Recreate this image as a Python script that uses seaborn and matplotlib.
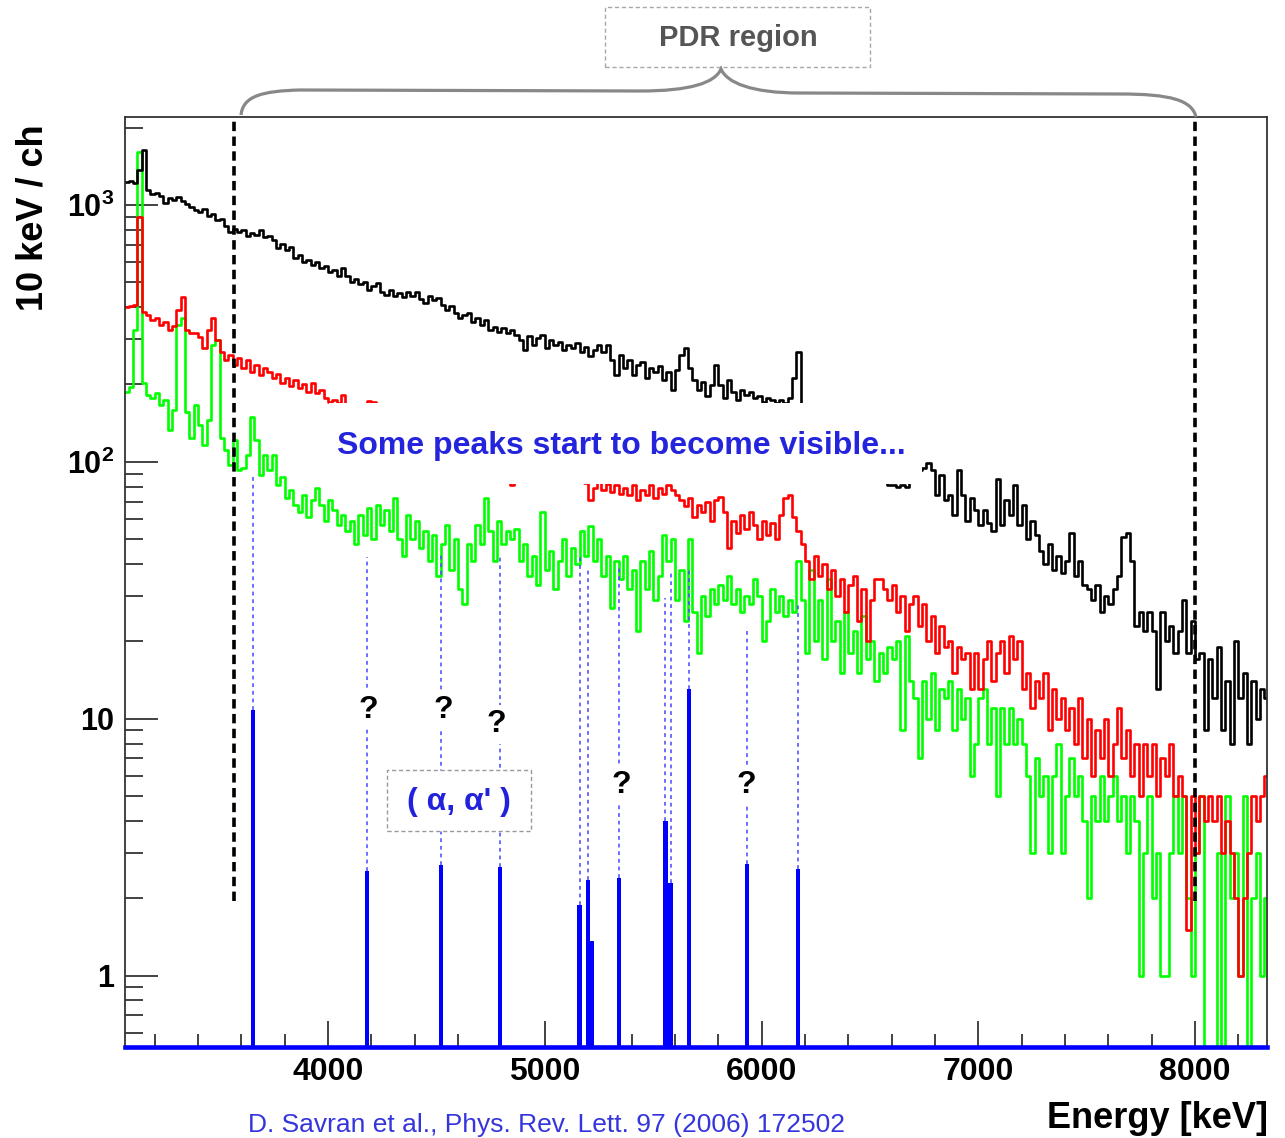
import numpy as np
import pandas as pd
import matplotlib
matplotlib.use('Agg')
import matplotlib.pyplot as plt
import seaborn as sns
from matplotlib.patches import Rectangle, PathPatch
from matplotlib.path import Path
from matplotlib.ticker import MultipleLocator, LogLocator, NullFormatter, FixedLocator, FixedFormatter

sns.set_theme(style='white')
plt.rcParams['font.family'] = ['Liberation Sans', 'DejaVu Sans']
plt.rcParams['mathtext.fontset'] = 'custom'
plt.rcParams['mathtext.rm'] = 'Liberation Sans:bold'
plt.rcParams['mathtext.it'] = 'Liberation Sans:bold'
plt.rcParams['mathtext.bf'] = 'Liberation Sans:bold'
plt.rcParams['text.color'] = 'black'

# ---------------- data ----------------
bin_start = 3060   # keV
bin_width = 20     # keV

black = [1230,1240,1220,1370,1640,1144,1104,1114,1084,1018,
         1065,1046,1075,1037,1009,982,956,939,965,906,
         922,874,882,828,785,806,785,799,757,778,
         764,799,750,757,731,680,705,668,686,622,
         639,600,611,584,600,568,579,548,558,529,
         568,529,501,516,493,501,467,484,497,458,
         446,467,442,454,438,458,442,458,431,415,
         442,427,435,408,390,404,380,363,373,380,
         351,363,341,357,326,335,320,332,317,326,
         312,298,273,309,285,304,312,277,298,285,
         293,273,285,277,290,268,280,258,273,285,
         268,285,249,218,261,232,249,218,238,244,
         212,232,224,236,208,224,190,228,261,277,
         232,208,190,204,180,199,238,199,177,208,
         187,174,190,182,187,177,180,171,177,174,
         169,174,169,177,212,268,166,162,156,159,
         151,153,145,139,133,127,122,116,111,106,
         102,97,93,88,87,85,81,81,80,81,
         80,87,89,93,95,99,93,74,89,71,
         74,62,93,74,59,72,65,57,65,58,
         54,86,57,71,62,81,57,68,50,59,
         52,45,40,48,38,43,37,41,53,36,
         41,33,32,29,33,26,30,28,32,36,
         51,53,41,23,26,22,26,22,13,26,
         20,23,18,22,29,18,24,17,18,9,
         17,12,19,9,14,8,20,12,15,8,
         14,10,13,12]

red = [399,403,408,898,383,373,357,363,341,351,
       326,338,390,438,326,317,317,306,277,326,
       363,298,268,249,261,238,254,232,249,224,
       238,218,232,224,212,220,203,212,197,208,
       194,201,187,202,185,190,177,171,174,169,
       182,162,156,159,152,162,172,171,152,145,
       148,139,142,135,130,133,126,122,124,117,
       113,116,109,106,111,104,100,102,96,93,
       95,91,89,93,87,88,85,90,85,81,
       87,90,87,91,88,93,89,95,90,93,
       88,91,87,90,85,88,83,71,79,87,
       78,82,76,81,75,79,74,81,71,78,
       74,81,72,79,75,81,78,74,71,67,
       72,61,68,64,70,59,71,73,64,46,
       59,53,62,55,64,57,50,59,52,58,
       50,62,72,74,61,54,48,41,35,43,
       36,40,32,38,30,35,26,33,36,24,
       32,20,29,35,35,32,29,33,26,30,
       22,28,30,23,28,20,25,18,23,19,
       20,15,19,17,18,13,18,13,17,20,
       14,18,20,15,21,17,20,13,15,11,
       14,12,15,9,13,10,12,9,11,8,
       12,7,10,6,9,7,10,6,8,11,
       7,9,6,8,5,8,6,8,5,7,
       6,8,5,6,5,1.5,5,3,5,4,
       5,4,5,3,4,3,2,1,2,3,
       5,4,5,6]

green = [187,195,326,1610,202,182,177,185,166,174,
         133,159,341,363,156,124,166,139,116,145,
         285,298,124,111,97,122,93,95,106,149,
         122,89,106,93,106,81,87,72,78,68,
         64,74,61,71,79,68,59,71,65,57,
         62,54,59,48,62,52,66,50,68,57,
         65,54,72,50,43,62,50,59,46,54,
         41,52,36,48,57,38,50,32,28,48,
         41,57,48,72,54,41,59,48,54,50,
         55,41,48,36,43,33,64,38,45,32,
         41,50,36,46,40,54,43,56,41,50,
         36,43,27,41,35,43,32,38,22,41,
         32,45,29,36,52,41,50,29,38,24,
         50,26,18,30,25,32,28,33,29,36,
         28,32,26,30,28,35,30,20,24,32,
         26,30,25,29,26,41,29,18,38,20,
         29,17,35,20,24,15,26,18,22,15,
         25,17,20,14,18,15,19,17,20,9,
         21,14,12,7,14,10,15,9,13,12,
         14,9,13,10,12,6,8,12,13,8,
         11,5,11,8,11,8,10,8,6,3,
         7,5,6,3,6,8,3,5,7,5,
         6,4,2,5,4,6,4,5,6,4,
         5,3,5,4,1,3,5,2,3,1,
         1,3,5,3,5,2,1,3,5,0,
         0,0,3,0,5,2,3,1,5,0,
         2,3,1,2]

# known (alpha,alpha') levels shown as blue bars
peak_energy = [3654, 4180, 4521, 4793, 5160, 5198, 5218, 5342, 5557, 5580, 5665, 5933, 6168]
peak_height = [10.8, 2.55, 2.69, 2.64, 1.89, 2.35, 1.36, 2.39, 3.98, 2.29, 13.1, 2.71, 2.6]

# dashed guide lines from bars up to the spectrum
guide_energy = [3654, 4180, 4521, 4793, 5160, 5198, 5342, 5555, 5580, 5665, 5933, 6168]
guide_low = [10.8, 2.55, 2.69, 2.64, 1.89, 2.35, 2.39, 3.98, 2.29, 13.1, 2.71, 2.6]
guide_top = [89, 42.5, 44, 43, 42.5, 38.8, 39, 29.6, 36.8, 37.9, 22.7, 28.4]

question_energy = [4184, 4530, 4775, 5351, 5928]
question_level = [10.8, 10.8, 9.5, 5.5, 5.5]

pdr_limits = [3565, 8000]
x_ticks = [4000, 5000, 6000, 7000, 8000]
y_ticks = [1, 10, 100, 1000]
y_tick_labels = ['1', '10', r'$10^{2}$', r'$10^{3}$']

# ---------------- build table ----------------
n = len(black)
edges = bin_start + bin_width * np.arange(n + 1)
rows = []
for name, vals in [('green', green), ('red', red), ('black', black)]:
    v = np.asarray(vals, dtype=float)
    v = np.where(v > 0, v, 0.05)
    vv = np.append(v, v[-1])
    rows.append(pd.DataFrame({'energy': edges, 'counts': vv, 'series': name}))
df = pd.concat(rows, ignore_index=True)

# ---------------- figure ----------------
W, H = 1285, 1138
fig = plt.figure(figsize=(W / 100, H / 100), dpi=100)
fig.patch.set_facecolor('white')
ax = fig.add_axes([125 / W, 1 - 1047 / H, (1267 - 125) / W, (1047 - 117) / H])
ax.set_facecolor('white')

sns.lineplot(data=df, x='energy', y='counts', hue='series',
             hue_order=['green', 'red', 'black'],
             palette={'green': '#00ff00', 'red': '#ff0000', 'black': '#000000'},
             drawstyle='steps-post', estimator=None, linewidth=1.9,
             legend=False, ax=ax, zorder=2)

ax.set_yscale('log')
ax.set_xlim(3063, 8332)
ax.set_ylim(0.527, 2200)

# blue level bars
base = 0.3
ax.bar(peak_energy, np.asarray(peak_height) - base, bottom=base, width=19,
       color='#0000ff', linewidth=0, zorder=4)

# guide lines
ax.vlines(guide_energy, guide_low, guide_top, colors='#4646ff',
          linestyles=(0, (2.5, 2.5)), linewidth=1.1, zorder=3)

# PDR region limits
ax.vlines(pdr_limits, 1.95, 2200, colors='black', linestyles=(0, (2.6, 1.5)),
          linewidth=2.6, zorder=9)

# white box with comment text
ax.add_patch(Rectangle((4005, 82), 6740 - 4005, 169 - 82, facecolor='white',
                       edgecolor='none', zorder=5))
ax.text(5351, 115, 'Some peaks start to become visible...', ha='center', va='center',
        fontsize=23, fontweight='bold', color='#2424dd', zorder=6)

# question marks
for e, lv in zip(question_energy, question_level):
    ax.text(e, lv, '?', ha='center', va='center', fontsize=23, fontweight='bold',
            color='black', zorder=7,
            bbox=dict(facecolor='white', edgecolor='none', pad=3))

# (alpha, alpha') box
ax.add_patch(Rectangle((4272, 3.67), 4936 - 4272, 6.3 - 3.67, facecolor='white',
                       edgecolor='#9a9a9a', linestyle=(0, (3, 2)), linewidth=1.0, zorder=7))
ax.text(4604, 4.75, "( α, α' )", ha='center', va='center', fontsize=23,
        fontweight='bold', color='#2222dd', zorder=8)

# ticks
ax.xaxis.set_major_locator(FixedLocator(x_ticks))
ax.xaxis.set_minor_locator(MultipleLocator(200))
ax.yaxis.set_major_locator(FixedLocator(y_ticks))
ax.yaxis.set_major_formatter(FixedFormatter(y_tick_labels))
ax.yaxis.set_minor_locator(LogLocator(base=10, subs=np.arange(2, 10)))
ax.yaxis.set_minor_formatter(NullFormatter())
ax.tick_params(axis='x', which='major', direction='in', length=19, width=1.2,
               color='#222222', labelcolor='black', labelsize=23, pad=7, bottom=True, top=False)
ax.tick_params(axis='x', which='minor', direction='in', length=9.5, width=1.2,
               color='#222222', bottom=True, top=False)
ax.tick_params(axis='y', which='major', direction='in', length=24, width=1.2,
               color='#222222', labelcolor='black', labelsize=22, pad=8, left=True, right=False)
ax.tick_params(axis='y', which='minor', direction='in', length=13, width=1.2,
               color='#222222', left=True, right=False)
for t in ax.get_xticklabels() + ax.get_yticklabels():
    t.set_fontweight('bold')
ax.set_xlabel('')
ax.set_ylabel('')

for s in ['left', 'top', 'right']:
    ax.spines[s].set_color('#333333')
    ax.spines[s].set_linewidth(1.3)
ax.spines['bottom'].set_color('#0000ff')
ax.spines['bottom'].set_linewidth(3.3)
ax.spines['bottom'].set_zorder(10)

# axis titles
fig.text(33 / W, 1 - 218 / H, '10 keV / ch', rotation=90, ha='center', va='center',
         fontsize=26, fontweight='bold', color='black')
fig.text(1268 / W, 1 - 1119 / H, 'Energy [keV]', ha='right', va='center',
         fontsize=26, fontweight='bold', color='black')
fig.text(546 / W, 1 - 1125 / H, 'D. Savran et al., Phys. Rev. Lett. 97 (2006) 172502',
         ha='center', va='center', fontsize=19, color='#3535dd')

# PDR region label box
fig.add_artist(Rectangle((605 / W, 1 - 67 / H), 265 / W, 60 / H, transform=fig.transFigure,
                         facecolor='white', edgecolor='#a8a8a8', linestyle=(0, (3, 2)),
                         linewidth=1.0))
fig.text(738 / W, 1 - 38 / H, 'PDR region', ha='center', va='center', fontsize=21,
         fontweight='bold', color='#555555')

# curly brace
def P(px, py):
    return (px / W, 1 - py / H)

verts = [P(241, 115), P(243, 96), P(262, 91), P(300, 90),
         P(640, 91),
         P(690, 91), P(715, 83), P(721, 69),
         P(727, 83), P(752, 93), P(800, 93),
         P(1120, 94),
         P(1170, 94), P(1192, 100), P(1196, 117)]
codes = [Path.MOVETO, Path.CURVE4, Path.CURVE4, Path.CURVE4,
         Path.LINETO,
         Path.CURVE4, Path.CURVE4, Path.CURVE4,
         Path.CURVE4, Path.CURVE4, Path.CURVE4,
         Path.LINETO,
         Path.CURVE4, Path.CURVE4, Path.CURVE4]
fig.add_artist(PathPatch(Path(verts, codes), transform=fig.transFigure, facecolor='none',
                         edgecolor='#888888', linewidth=2.3))

fig.savefig('out.png', dpi=100)
